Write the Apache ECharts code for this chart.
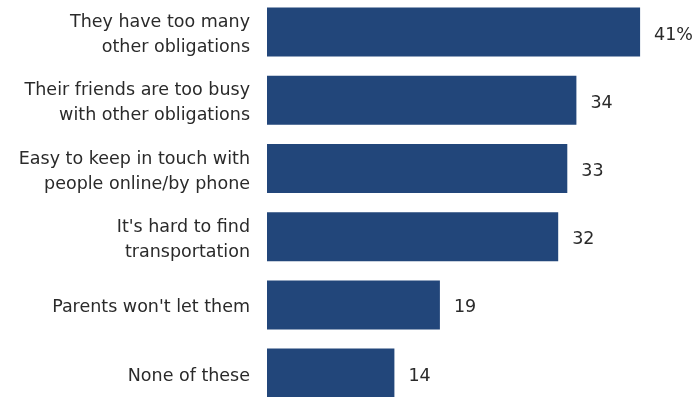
<!DOCTYPE html>
<html>
<head>
<meta charset="utf-8">
<script src="https://cdn.jsdelivr.net/npm/echarts@6/dist/echarts.min.js"></script>
<style>html,body{margin:0;padding:0;background:#fff;overflow:hidden;}#c{position:absolute;left:0;top:-2px;width:697px;height:412px;}</style>
</head>
<body>
<div id="c"></div>
<script>
var categories = [
  "They have too many\nother obligations",
  "Their friends are too busy\nwith other obligations",
  "Easy to keep in touch with\npeople online/by phone",
  "It's hard to find\ntransportation",
  "Parents won't let them",
  "None of these"
];
var values = [41, 34, 33, 32, 19, 14];

var chart = echarts.init(document.getElementById('c'));
chart.setOption({
  animation: false,
  grid: { left: 267, top: 0, right: 20.5, bottom: 2.8, containLabel: false },
  xAxis: { type: 'value', min: 0, max: 45, show: false },
  yAxis: {
    type: 'category', data: categories, inverse: true,
    axisLine: { show: false }, axisTick: { show: false },
    axisLabel: {
      margin: 17, align: 'right',
      formatter: function (v) { return v.split('\n').map(function (s) { return '{a|' + s + '}'; }).join('\n'); },
      rich: { a: { fontFamily: 'DejaVu Sans', fontSize: 17.5, color: '#2a2a2a', lineHeight: 25, align: 'right' } },
      padding: [6, 0, 0, 0]
    }
  },
  series: [{
    type: 'bar', data: values, barWidth: 49,
    itemStyle: { color: '#22467a' },
    label: {
      show: true, position: 'right', distance: 14, offset: [0, 3],
      fontFamily: 'DejaVu Sans', fontSize: 17.5, color: '#2a2a2a',
      formatter: function (p) { return p.dataIndex === 0 ? p.value + '%' : p.value; }
    }
  }]
});
</script>
</body>
</html>
